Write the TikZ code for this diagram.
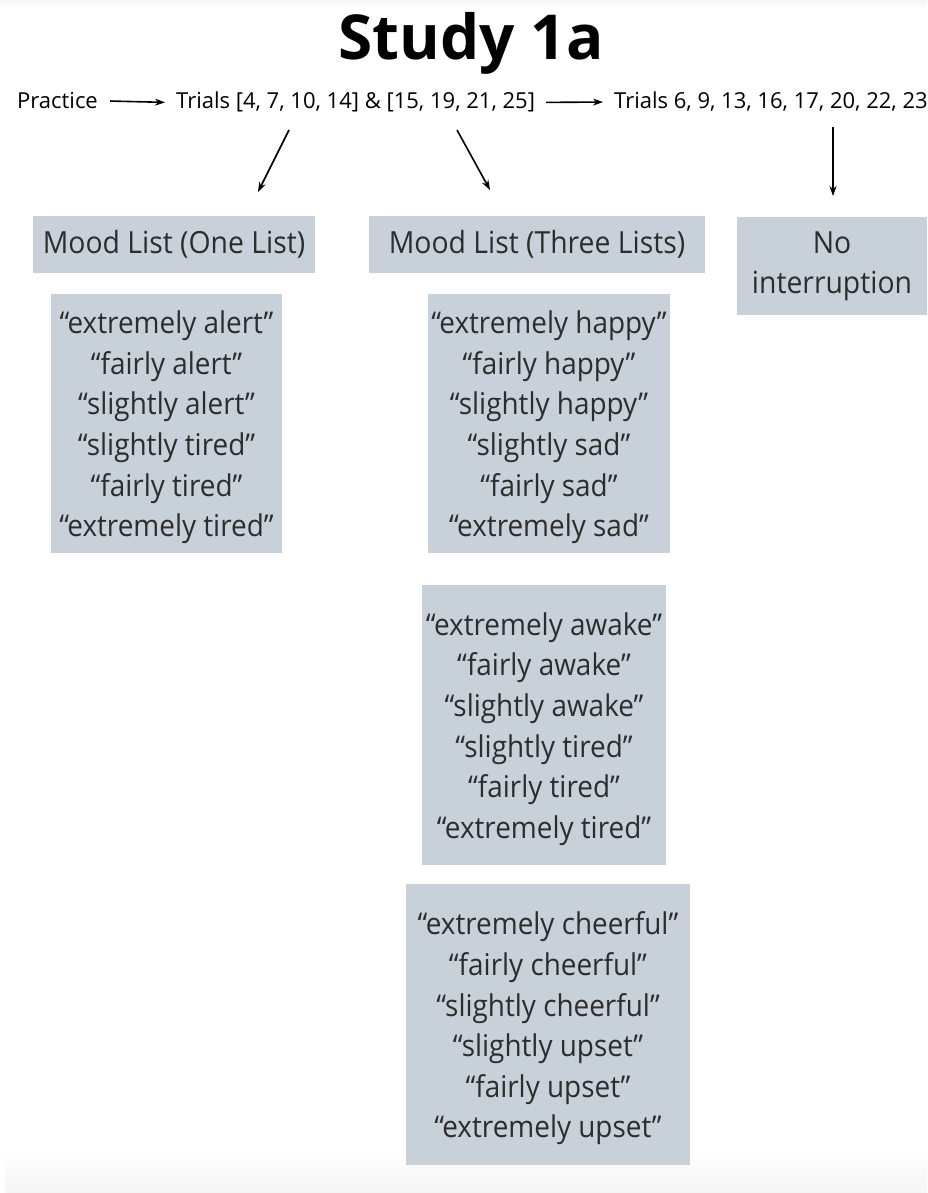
\documentclass[tikz,border=0pt]{standalone}
\usepackage{fontspec}
\setmainfont{Open Sans}
\newfontfamily\condfont[FakeStretch=0.93]{Open Sans}
\usetikzlibrary{arrows.meta}
\definecolor{boxfill}{RGB}{200,209,218}
\definecolor{txt}{RGB}{45,45,45}
\tikzset{
  box/.style={fill=boxfill, draw=none, inner sep=0pt, align=center, text=txt,
              font=\condfont\fontsize{30.5}{40}\selectfont},
  listtext/.style={inner sep=0pt, align=center, text=txt, font=\condfont\fontsize{30}{40.6}\selectfont},
  rowtext/.style={inner sep=0pt, text=black, font=\fontsize{22}{24}\selectfont},
  arr/.style={-{Stealth[length=10pt,width=7pt]}, line width=1.6pt, black},
}
\begin{document}
\begin{tikzpicture}[x=1pt,y=-1pt]
\useasboundingbox (0,0) rectangle (927,1193);
\shade[top color=white, bottom color=black!4] (5,1150) rectangle (927,1193);
\shade[top color=black!4, bottom color=white] (0,0) rectangle (927,8);

\node[inner sep=0pt, anchor=base, font=\fontsize{62}{62}\selectfont\bfseries] (title) at (471,60) {Study 1a};

\node[rowtext, anchor=base west] (practice) at (17,109) {Practice};
\node[rowtext, anchor=base west] (trials1) at (176,109) {Trials [4, 7, 10, 14] \& [15, 19, 21, 25]};
\node[rowtext, anchor=base west] (trials2) at (614,109) {Trials 6, 9, 13, 16, 17, 20, 22, 23};

\draw[arr] ([xshift=12pt]practice.east) -- ([xshift=-11pt]trials1.west);
\draw[arr] ([xshift=11pt]trials1.east) -- ([xshift=-11pt]trials2.west);

\node[box, minimum width=282, minimum height=57] (one) at (174,244.5) {Mood List (One List)};
\node[box, minimum width=336, minimum height=57] (three) at (537,244.5) {Mood List (Three Lists)};
\node[box, minimum width=190, minimum height=98] (none) at (832,266) {No\\interruption};

\node[box, minimum width=231, minimum height=259] (alertbox) at (166.5,423.5) {};
\node[box, minimum width=242, minimum height=259] (happybox) at (549,423.5) {};
\node[box, minimum width=244, minimum height=280] (awakebox) at (544,725) {};
\node[box, minimum width=284, minimum height=281] (cheerbox) at (548,1024.5) {};

\node[listtext] (alert) at ([yshift=-4pt]alertbox.center)
  {“extremely alert”\\“fairly alert”\\“slightly alert”\\“slightly tired”\\“fairly tired”\\“extremely tired”};
\node[listtext] (happy) at ([yshift=-4pt]happybox.center)
  {“extremely happy”\\“fairly happy”\\“slightly happy”\\“slightly sad”\\“fairly sad”\\“extremely sad”};
\node[listtext] (awake) at ([yshift=-4pt]awakebox.center)
  {“extremely awake”\\“fairly awake”\\“slightly awake”\\“slightly tired”\\“fairly tired”\\“extremely tired”};
\node[listtext] (cheer) at ([yshift=-4pt]cheerbox.center)
  {“extremely cheerful”\\“fairly cheerful”\\“slightly cheerful”\\“slightly upset”\\“fairly upset”\\“extremely upset”};

\coordinate (s1) at (289,130);
\coordinate (e1) at (258,192);
\coordinate (s2) at (457,130);
\coordinate (e2) at (490,190);
\coordinate (s3) at (833,127);
\coordinate (e3) at (833,196);
\draw[arr] (s1) -- (e1);
\draw[arr] (s2) -- (e2);
\draw[arr] (s3) -- (e3);
\end{tikzpicture}
\end{document}
